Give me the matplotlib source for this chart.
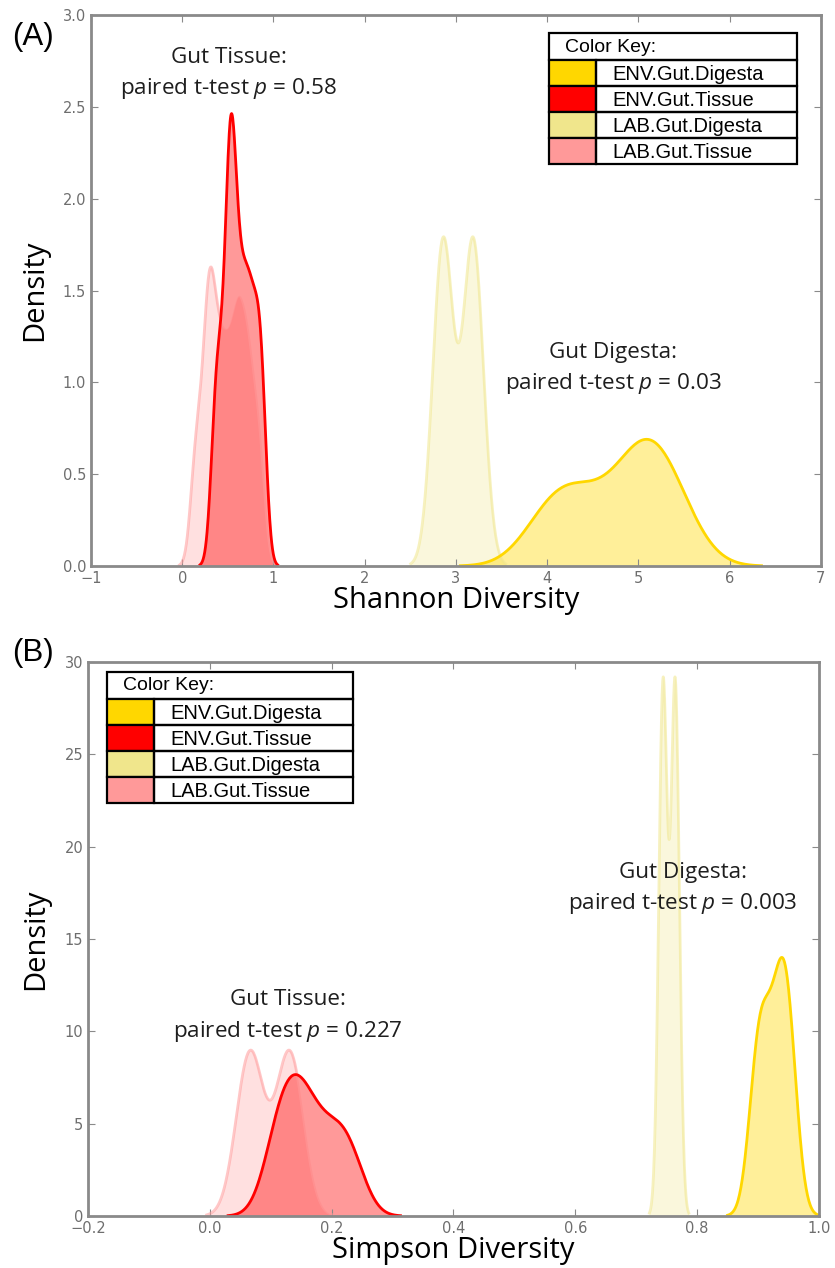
import numpy as np
import matplotlib
matplotlib.use('Agg')
import matplotlib.pyplot as plt
from matplotlib.patches import Rectangle

# Fonts and axis styling (old matplotlib look: inward ticks on all sides, grey frame)
plt.rcParams['font.family'] = 'DejaVu Sans'
plt.rcParams['mathtext.fontset'] = 'custom'
plt.rcParams['mathtext.rm'] = 'Open Sans'
plt.rcParams['mathtext.it'] = 'Open Sans:italic'
plt.rcParams['xtick.direction'] = 'in'
plt.rcParams['ytick.direction'] = 'in'
plt.rcParams['xtick.top'] = True
plt.rcParams['ytick.right'] = True
plt.rcParams['xtick.major.size'] = 5
plt.rcParams['ytick.major.size'] = 5
plt.rcParams['xtick.color'] = '#8a8a8a'
plt.rcParams['ytick.color'] = '#8a8a8a'
plt.rcParams['xtick.labelcolor'] = '#6e6e6e'
plt.rcParams['ytick.labelcolor'] = '#6e6e6e'
plt.rcParams['xtick.labelsize'] = 10.5
plt.rcParams['ytick.labelsize'] = 10.5

# Groups and colours
groups = ['ENV.Gut.Digesta', 'ENV.Gut.Tissue', 'LAB.Gut.Digesta', 'LAB.Gut.Tissue']
colors = ['#FFD700', '#FF0000', '#F0E68C', '#FF9999']

# Shannon diversity per sample
shannon_env_digesta = [3.95, 4.15, 4.30, 4.55, 4.85, 5.00, 5.08, 5.17, 5.28, 5.45]
shannon_env_tissue = [0.36, 0.42, 0.50, 0.52, 0.54, 0.57, 0.62, 0.67, 0.72, 0.77, 0.83, 0.88]
shannon_lab_digesta = [2.84, 2.85, 2.86, 2.87, 2.88, 3.17, 3.18, 3.19, 3.20, 3.21]
shannon_lab_tissue = [0.15, 0.25, 0.30, 0.33, 0.40, 0.46, 0.53, 0.59, 0.64, 0.70, 0.76, 0.85]
shannon_bw = [0.30, 0.055, 0.112, 0.06]

# Simpson diversity per sample
simpson_env_digesta = [0.895, 0.900, 0.905, 0.915, 0.925, 0.935, 0.940, 0.945, 0.950, 0.955]
simpson_env_tissue = [0.105, 0.113, 0.124, 0.134, 0.143, 0.152, 0.162, 0.176,
                      0.194, 0.210, 0.224, 0.238]
simpson_lab_digesta = [0.742, 0.743, 0.744, 0.745, 0.746, 0.762, 0.763, 0.764, 0.765, 0.766]
simpson_lab_tissue = [0.062, 0.064, 0.066, 0.068, 0.070, 0.127, 0.129, 0.131, 0.133, 0.135]
simpson_bw = [0.015, 0.025, 0.0068, 0.0224]

shannon_p = {'tissue': '0.58', 'digesta': '0.03'}
simpson_p = {'tissue': '0.227', 'digesta': '0.003'}


def kde(values, bw, cut=3, gridsize=200):
    x = np.asarray(values, dtype=float)
    grid = np.linspace(x.min() - cut * bw, x.max() + cut * bw, gridsize)
    z = (grid[:, None] - x[None, :]) / bw
    dens = np.exp(-0.5 * z ** 2).sum(axis=1) / (len(x) * bw * np.sqrt(2 * np.pi))
    return grid, dens


def draw_kdes(ax, data, bws):
    # lab groups first (faded), field groups on top
    for i in [3, 2, 1, 0]:
        xs, ys = kde(data[i], bws[i])
        lab = groups[i].startswith('LAB')
        ax.fill_between(xs, ys, 0, color=colors[i], alpha=0.3 if lab else 0.4, lw=0)
        ax.plot(xs, ys, color=colors[i], lw=2, alpha=0.55 if lab else 1.0)


def color_key(ax, bounds):
    # small table used as the legend
    kax = ax.inset_axes(bounds)
    kax.set_xlim(0, 248)
    kax.set_ylim(131, 0)
    kax.axis('off')
    edges = [0, 27, 53, 79, 105, 131]
    kw = dict(fill=False, ec='black', lw=1.6, clip_on=False)
    kax.add_patch(Rectangle((0, 0), 248, 27, **kw))
    kax.text(16, 14, 'Color Key:', fontsize=14, family='Liberation Sans', va='center')
    for i, name in enumerate(groups):
        top, bot = edges[i + 1], edges[i + 2]
        kax.add_patch(Rectangle((0, top), 47, bot - top, fc=colors[i], ec='black',
                                lw=1.6, clip_on=False))
        kax.add_patch(Rectangle((47, top), 201, bot - top, **kw))
        kax.text(64, (top + bot) / 2 + 1, name, fontsize=14.5, family='Liberation Sans',
                 va='center')


def note(ax, x, y1, y2, title, pval):
    kw = dict(ha='center', va='center', fontsize=16.2, family='Open Sans', color='#1e1e1e')
    ax.text(x, y1, title, **kw)
    ax.text(x, y2, r'paired t-test $p$ = ' + pval, **kw)


def style_axes(ax):
    for s in ax.spines.values():
        s.set_color('#8a8a8a')
        s.set_linewidth(2)


fig = plt.figure(figsize=(8.35, 12.68), dpi=100)

# (A) Shannon
ax1 = fig.add_axes([0.109, 0.5536, 0.874, 0.4345])
draw_kdes(ax1, [shannon_env_digesta, shannon_env_tissue, shannon_lab_digesta,
                shannon_lab_tissue], shannon_bw)
ax1.set_xlim(-1, 7)
ax1.set_ylim(0, 3.0)
ax1.set_xticks(range(-1, 8))
ax1.set_yticks(np.arange(0, 3.01, 0.5))
ax1.set_yticklabels(['%.1f' % v for v in np.arange(0, 3.01, 0.5)])
ax1.set_xlabel('Shannon Diversity', family='Open Sans', fontsize=21, labelpad=0)
ax1.set_ylabel('Density', family='Open Sans', fontsize=21, labelpad=10)
style_axes(ax1)
note(ax1, 0.51, 2.77, 2.60, 'Gut Tissue:', shannon_p['tissue'])
note(ax1, 4.72, 1.165, 0.996, 'Gut Digesta:', shannon_p['digesta'])
color_key(ax1, [0.627, 0.7296, 0.340, 0.2377])
fig.text(0.014, 0.971, '(A)', fontsize=22.5, family='Liberation Sans', va='center')

# (B) Simpson
ax2 = fig.add_axes([0.1054, 0.041, 0.8754, 0.4369])
draw_kdes(ax2, [simpson_env_digesta, simpson_env_tissue, simpson_lab_digesta,
                simpson_lab_tissue], simpson_bw)
simpson_ticks = np.arange(-0.2, 1.01, 0.2)
ax2.set_xlim(-0.2, 1.0)
ax2.set_ylim(0, 30)
ax2.set_xticks(simpson_ticks)
ax2.set_xticklabels([('%.1f' % v).replace('-', '\u2212') for v in simpson_ticks])
ax2.set_yticks(range(0, 31, 5))
ax2.set_xlabel('Simpson Diversity', family='Open Sans', fontsize=21, labelpad=0)
ax2.set_ylabel('Density', family='Open Sans', fontsize=21, labelpad=10)
style_axes(ax2)
note(ax2, 0.1276, 11.75, 10.0, 'Gut Tissue:', simpson_p['tissue'])
note(ax2, 0.777, 18.6, 16.9, 'Gut Digesta:', simpson_p['digesta'])
color_key(ax2, [0.026, 0.7455, 0.3365, 0.2365])
fig.text(0.014, 0.485, '(B)', fontsize=22.5, family='Liberation Sans', va='center')

fig.savefig('out.png', dpi=100, facecolor='white')
